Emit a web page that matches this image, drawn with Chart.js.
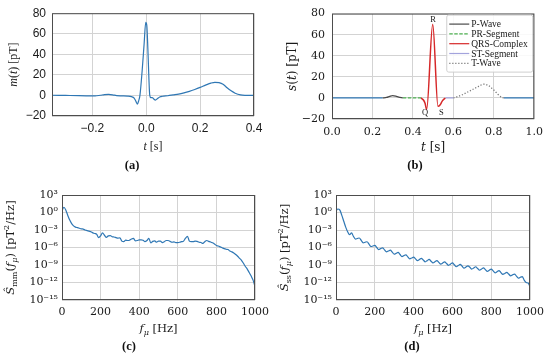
<!DOCTYPE html>
<html>
<head>
<meta charset="utf-8">
<script src="https://cdn.jsdelivr.net/npm/chart.js@4.4.1/dist/chart.umd.min.js"></script>
<style>
  html, body { margin: 0; padding: 0; background: #fff; }
  #wrap { position: relative; width: 550px; height: 362px; overflow: hidden; }
  #wrap canvas { position: absolute; }
</style>
</head>
<body>
<div id="wrap">
  <canvas id="chartA" width="275" height="181" style="left:0;top:0"></canvas>
  <canvas id="chartB" width="275" height="181" style="left:275px;top:0"></canvas>
  <canvas id="chartC" width="275" height="181" style="left:0;top:181px"></canvas>
  <canvas id="chartD" width="275" height="181" style="left:275px;top:181px"></canvas>
</div>
<script>
// (a) measured heart signal m(t)
var aTime = [-0.35, -0.30, -0.25, -0.21, -0.19, -0.17, -0.155, -0.14, -0.125, -0.11, -0.09, -0.07, -0.055, -0.045,
  -0.038, -0.033, -0.028, -0.0235, -0.015, -0.008, -0.002, 0.002, 0.006, 0.010, 0.013, 0.017, 0.022, 0.027, 0.034,
  0.042, 0.05, 0.06, 0.08, 0.10, 0.12, 0.14, 0.16, 0.18, 0.20, 0.22, 0.24, 0.255, 0.27, 0.285, 0.30, 0.315, 0.33,
  0.35, 0.37, 0.40];
var aSignal = [0.2, 0.0, -0.2, -0.4, -0.5, 0.2, 0.8, 1.0, 0.6, -0.2, -0.4, -0.6, -1.2, -2.5,
  -6, -8.5, -5, 0, 25, 50, 71, 68, 45, 15, 0, -2.2, -2, -3.2, -4.5,
  -3, -1.5, -0.8, -0.3, 0.5, 1.3, 2.5, 4, 5.8, 7.8, 10, 12, 12.8, 12.5, 11, 7.5, 4.5, 2.2,
  0.5, 0.1, 0.0];
var aXTicks = [-0.2, 0.0, 0.2, 0.4];
var aYTicks = [-20, 0, 20, 40, 60, 80];

// (b) synthetic heart signal s(t) and its segments
var bTime = [0, 0.25, 0.27, 0.285, 0.30, 0.315, 0.33, 0.35, 0.40, 0.44, 0.452, 0.46, 0.468, 0.498, 0.524, 0.535,
  0.545, 0.56, 0.60, 0.625, 0.65, 0.675, 0.70, 0.725, 0.75, 0.775, 0.80, 0.82, 0.84, 0.85, 1.0];
var bSignal = [0, 0, 0.5, 1.5, 2.2, 1.7, 0.7, 0, 0, 0, -2, -5, -11, 70, -8, -6.5,
  -3, 0, 0, 1.5, 3.5, 6, 8.5, 11, 13, 11.5, 7.5, 3.5, 0.5, 0, 0];
var bSegNames = ['P-Wave', 'PR-Segment', 'QRS-Complex', 'ST-Segment', 'T-Wave'];
var bSegStart = [0.25, 0.35, 0.44, 0.56, 0.60];
var bSegEnd = [0.35, 0.44, 0.56, 0.60, 0.85];
var bRestStart = [0, 0.85];
var bRestEnd = [0.25, 1.0];
var bMarkText = ['Q', 'R', 'S'];
var bMarkTime = [0.46, 0.5, 0.541];
var bMarkValue = [-14.5, 74.5, -14.5];
var bXTicks = [0, 0.2, 0.4, 0.6, 0.8, 1.0];
var bYTicks = [-20, 0, 20, 40, 60, 80];

// (c), (d) spectra, values as log10 of pT^2/Hz
var freq = [0, 10, 20, 30, 40, 50, 60, 70, 80, 90, 100, 110, 120, 130, 140, 150, 160, 170, 180, 190, 200, 210, 220,
  230, 240, 250, 260, 270, 280, 290, 300, 310, 320, 330, 340, 350, 360, 370, 380, 390, 400, 410, 420, 430, 440, 450,
  460, 470, 480, 490, 500, 510, 520, 530, 540, 550, 560, 570, 580, 590, 600, 610, 620, 630, 640, 650, 660, 670, 680,
  690, 700, 710, 720, 730, 740, 750, 760, 770, 780, 790, 800, 810, 820, 830, 840, 850, 860, 870, 880, 890, 900, 910,
  920, 930, 940, 950, 960, 970, 980, 990, 1000];
var cLog = [0.3, 0.9, 0.4, -0.5, -1.3, -1.9, -2.3, -2.5, -2.6, -2.7,
  -2.8, -2.85, -3.0, -3.1, -3.2, -3.3, -3.5, -3.6, -3.75, -4.3,
  -4.0, -3.5, -3.9, -4.25, -4.0, -3.95, -4.15, -4.2, -4.3, -4.4,
  -4.35, -4.9, -5.0, -4.75, -4.8, -4.75, -4.55, -4.45, -4.85, -4.8,
  -4.7, -4.7, -4.75, -5.0, -4.8, -4.45, -5.2, -4.95, -4.85, -5.1,
  -4.9, -4.9, -5.15, -5.0, -4.8, -4.8, -4.95, -5.1, -5.05, -5.15,
  -5.15, -5.1, -5.0, -4.9, -4.4, -4.1, -4.9, -5.0, -5.0, -4.9,
  -4.95, -5.1, -5.15, -5.3, -5.0, -4.8, -4.95, -5.05, -5.2, -5.4,
  -5.65, -5.75, -5.9, -6.05, -6.2, -6.3, -6.35, -6.6, -6.75, -6.95,
  -7.2, -7.5, -7.85, -8.2, -8.7, -9.25, -9.7, -10.3, -10.9, -11.6,
  -12.7];
var dLog = [0.3, 0.6, 0.4, -0.5, -1.5, -2.5, -3.3, -3.8, -3.5, -4.1,
  -4.55, -4.46, -4.37, -4.78, -5.19, -5.1, -5.01, -5.42, -5.83, -5.74,
  -5.65, -6.0, -6.35, -6.2, -6.05, -6.4, -6.75, -6.6, -6.45, -6.8,
  -7.15, -7.0, -6.85, -7.2, -7.55, -7.4, -7.25, -7.6, -7.95, -7.8,
  -7.65, -7.95, -8.25, -8.05, -7.85, -8.15, -8.45, -8.25, -8.05, -8.35,
  -8.65, -8.45, -8.25, -8.55, -8.85, -8.65, -8.45, -8.75, -9.05, -8.85,
  -8.65, -8.95, -9.3, -9.1, -8.9, -9.2, -9.55, -9.35, -9.15, -9.4,
  -9.7, -9.5, -9.3, -9.6, -9.9, -9.7, -9.5, -9.8, -10.1, -9.9,
  -9.7, -10.0, -10.35, -10.15, -9.95, -10.3, -10.6, -10.45, -10.25, -10.55,
  -10.85, -10.7, -10.55, -10.9, -11.25, -11.1, -11.0, -11.6, -12.0, -12.1,
  -12.7];
var fXTicks = [0, 200, 400, 600, 800, 1000];
var fYTicks = [1e-15, 1e-12, 1e-9, 1e-6, 1e-3, 1e0, 1e3];

var BLUE = '#2f77b4';
var SERIF = "'DejaVu Serif'";
var TIMES = "'Liberation Serif'";
var SANS = "'Liberation Sans'";

function minus(s) { return String(s).replace('-', '\u2212'); }

var SUP = { '-': '\u207b', '0': '\u2070', '1': '\u00b9', '2': '\u00b2', '3': '\u00b3', '4': '\u2074',
  '5': '\u2075', '6': '\u2076', '7': '\u2077', '8': '\u2078', '9': '\u2079' };
function powLabel(v) {
  var e = String(Math.round(Math.log10(v)));
  return '10' + e.split('').map(function(ch) { return SUP[ch]; }).join('');
}

// text made of plain / italic / sub / sup pieces, centred on (x, y)
function drawRich(ctx, parts, x, y, size, family, vertical) {
  ctx.save();
  ctx.translate(x, y);
  if (vertical) ctx.rotate(-Math.PI / 2);
  var fonts = [], widths = [], total = 0;
  parts.forEach(function(p, i) {
    var small = /sub|sup/.test(p[1] || '');
    fonts[i] = (/i/.test(p[1] || '') ? 'italic ' : '') + (small ? size * 0.7 : size) + 'px ' + family;
    ctx.font = fonts[i];
    widths[i] = ctx.measureText(p[0]).width;
    total += widths[i];
  });
  var cx = -total / 2;
  ctx.fillStyle = '#1a1a1a';
  ctx.textBaseline = 'alphabetic';
  parts.forEach(function(p, i) {
    var dy = size * 0.35;
    if (/sub/.test(p[1] || '')) dy += size * 0.22;
    if (/sup/.test(p[1] || '')) dy -= size * 0.4;
    ctx.font = fonts[i];
    ctx.fillText(p[0], cx, dy);
    cx += widths[i];
  });
  ctx.restore();
}

// frame, axis titles and panel letter
function decorate(cfg) {
  return {
    id: 'decorate',
    afterDatasetsDraw: function(chart) {
      var a = chart.chartArea, ctx = chart.ctx;
      ctx.save();
      ctx.strokeStyle = '#4d4d4d';
      ctx.lineWidth = 1;
      ctx.strokeRect(a.left + 0.5, a.top + 0.5, a.right - a.left - 1, a.bottom - a.top - 1);
      ctx.restore();
    },
    afterDraw: function(chart) {
      var a = chart.chartArea, ctx = chart.ctx;
      drawRich(ctx, cfg.xTitle, (a.left + a.right) / 2, a.bottom + cfg.xTitleGap, cfg.titleSize, cfg.titleFont, false);
      drawRich(ctx, cfg.yTitle, a.left - cfg.yTitleGap, (a.top + a.bottom) / 2, cfg.titleSize, cfg.titleFont, true);
      ctx.save();
      ctx.font = 'bold 12.5px ' + TIMES;
      ctx.fillStyle = '#111';
      ctx.textAlign = 'center';
      ctx.textBaseline = 'middle';
      ctx.fillText(cfg.panel, cfg.panelX, 166);
      ctx.restore();
      if (cfg.extra) cfg.extra(chart);
    }
  };
}

function axis(type, min, max, ticks, label, font, size, pad, fitSize, isX) {
  return {
    type: type, min: min, max: max,
    grid: { color: '#d3d3d3', lineWidth: 1, drawTicks: false },
    border: { display: false },
    afterBuildTicks: function(s) { s.ticks = ticks.map(function(v) { return { value: v }; }); },
    afterFit: function(s) { if (isX) s.height = fitSize; else s.width = fitSize; },
    ticks: { autoSkip: false, maxRotation: 0, padding: pad, color: '#1a1a1a',
      font: { family: font, size: size }, callback: label }
  };
}

function lineSet(points, color, extra) {
  var ds = { data: points, borderColor: color, borderWidth: 1.3, pointRadius: 0, fill: false,
    cubicInterpolationMode: 'monotone' };
  for (var k in extra) ds[k] = extra[k];
  return ds;
}

function makeChart(id, datasets, scales, padding, deco) {
  return new Chart(document.getElementById(id), {
    type: 'line',
    data: { datasets: datasets },
    options: {
      responsive: false, animation: false, devicePixelRatio: 1,
      layout: { padding: padding },
      plugins: { legend: { display: false }, tooltip: { enabled: false } },
      scales: scales
    },
    plugins: [deco]
  });
}

function pts(xs, ys) { return xs.map(function(x, i) { return { x: x, y: ys[i] }; }); }

// ---------- (a)
makeChart('chartA',
  [lineSet(pts(aTime, aSignal), BLUE, { borderWidth: 1.2 })],
  {
    x: axis('linear', -0.35, 0.4, aXTicks, function(v) { return minus(v.toFixed(1)); }, SANS, 12, 5, 20, true),
    y: axis('linear', -20, 80, aYTicks, function(v) { return minus(v); }, SANS, 12, 6, 52, false)
  },
  { left: 0, top: 7, right: 21, bottom: 45 },
  decorate({
    xTitle: [['t', 'i'], [' [s]']], yTitle: [['m', 'i'], ['('], ['t', 'i'], [') [pT]']],
    titleSize: 12, titleFont: TIMES, xTitleGap: 30, yTitleGap: 39, panel: '(a)', panelX: 132
  })
);

// ---------- (b)
var bAll = pts(bTime, bSignal);
function slice(s, e) { return bAll.filter(function(p) { return p.x >= s - 1e-9 && p.x <= e + 1e-9; }); }
var segStyle = [
  { color: '#4a4a4a', dash: [] },
  { color: '#4caf50', dash: [3.5, 1.5] },
  { color: '#d62728', dash: [] },
  { color: '#a3a3dc', dash: [] },
  { color: '#7a7a7a', dash: [1.2, 1.8] }
];
var bSets = [];
bRestStart.forEach(function(s, i) { bSets.push(lineSet(slice(s, bRestEnd[i]), BLUE, {})); });
bSegNames.forEach(function(name, i) {
  bSets.push(lineSet(slice(bSegStart[i], bSegEnd[i]), segStyle[i].color,
    { label: name, borderDash: segStyle[i].dash, borderWidth: i === 2 ? 1.5 : 1.3 }));
});

function bExtra(chart) {
  var ctx = chart.ctx, sx = chart.scales.x, sy = chart.scales.y, a = chart.chartArea;
  ctx.save();
  ctx.font = '8.5px ' + TIMES;
  ctx.fillStyle = '#1a1a1a';
  ctx.textAlign = 'center';
  ctx.textBaseline = 'middle';
  bMarkText.forEach(function(t, i) {
    ctx.fillText(t, sx.getPixelForValue(bMarkTime[i]), sy.getPixelForValue(bMarkValue[i]));
  });
  // legend box in the upper right corner
  var bx = a.right - 88, by = a.top + 1, bw = 86, bh = 57;
  ctx.fillStyle = 'rgba(255,255,255,0.85)';
  ctx.strokeStyle = '#cfcfcf';
  ctx.lineWidth = 1;
  ctx.beginPath();
  ctx.roundRect(bx + 0.5, by + 0.5, bw, bh, 2);
  ctx.fill();
  ctx.stroke();
  ctx.font = '9.5px ' + TIMES;
  ctx.textAlign = 'left';
  bSegNames.forEach(function(name, i) {
    var y = by + 9.5 + i * 9.8;
    ctx.strokeStyle = segStyle[i].color;
    ctx.setLineDash(segStyle[i].dash);
    ctx.lineWidth = 1.2;
    ctx.beginPath();
    ctx.moveTo(bx + 3, y);
    ctx.lineTo(bx + 23, y);
    ctx.stroke();
    ctx.setLineDash([]);
    ctx.fillStyle = '#1a1a1a';
    ctx.fillText(name, bx + 25, y + 0.5);
  });
  ctx.restore();
}

makeChart('chartB', bSets,
  {
    x: axis('linear', 0, 1, bXTicks, function(v) { return v.toFixed(1); }, SERIF, 11, 7, 20, true),
    y: axis('linear', -20, 80, bYTicks, function(v) { return minus(v); }, SERIF, 11, 7, 57, false)
  },
  { left: 0, top: 9, right: 11, bottom: 42 },
  decorate({
    xTitle: [['t', 'i'], [' [s]']], yTitle: [['s', 'i'], ['('], ['t', 'i'], [') [pT]']],
    titleSize: 12, titleFont: SERIF, xTitleGap: 28, yTitleGap: 40, panel: '(b)', panelX: 140, extra: bExtra
  })
);

// ---------- (c), (d)
function spectrum(id, logs, sub, padRight, yWidth, panel, panelX) {
  var data = freq.map(function(f, i) { return { x: f, y: Math.pow(10, logs[i]) }; });
  makeChart(id, [lineSet(data, BLUE, { borderWidth: 1.2 })],
    {
      x: axis('linear', 0, 1000, fXTicks, function(v) { return String(v); }, SERIF, 11, 6, 20, true),
      y: axis('logarithmic', 1e-15, 1e3, fYTicks, powLabel, SERIF, 11, 4, yWidth, false)
    },
    { left: 0, top: 14, right: padRight, bottom: 42 },
    decorate({
      xTitle: [['f', 'i'], ['\u03bc', 'isub'], [' [Hz]']],
      yTitle: [['\u015c', 'i'], [sub, 'sub'], ['('], ['f', 'i'], ['\u03bc', 'isub'], [') [pT'], ['2', 'sup'], ['/Hz]']],
      titleSize: 11.5, titleFont: SERIF, xTitleGap: 28, yTitleGap: 52, panel: panel, panelX: panelX
    })
  );
}
spectrum('chartC', cLog, 'mm', 14, 62, '(c)', 129);
spectrum('chartD', dLog, 'ss', 16, 61, '(d)', 137);
</script>
</body>
</html>
